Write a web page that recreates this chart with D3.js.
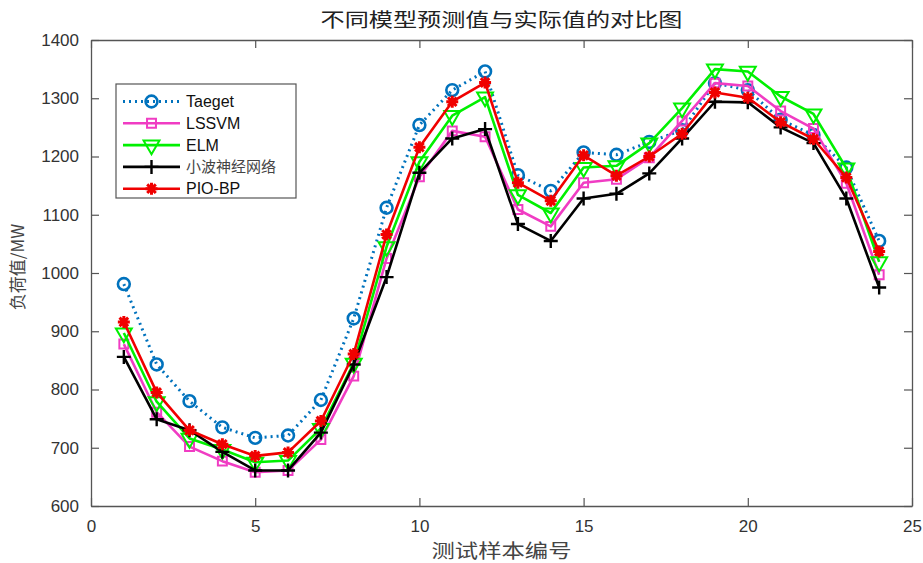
<!DOCTYPE html>
<html>
<head>
<meta charset="utf-8">
<script src="https://cdn.jsdelivr.net/npm/d3@7"></script>
<style>
  body { margin: 0; background: #fff; }
  svg { display: block; }
</style>
</head>
<body>
<script>
// sample index 1..24
var samples = d3.range(1, 25);
var target  = [981, 843, 780, 735, 717, 721, 782, 922, 1112, 1254, 1314, 1346, 1168, 1141, 1207, 1203, 1225, 1245, 1326, 1314, 1263, 1237, 1181, 1055];
var lssvm   = [878, 761, 702, 677, 658, 661, 714, 823, 1025, 1165, 1244, 1234, 1109, 1080, 1155, 1161, 1198, 1261, 1326, 1321, 1278, 1248, 1154, 997];
var elm     = [897, 779, 716, 697, 675, 678, 733, 845, 1045, 1191, 1270, 1302, 1134, 1103, 1181, 1184, 1223, 1283, 1350, 1346, 1303, 1273, 1180, 1019];
var wavelet = [856, 749, 730, 693, 661, 661, 726, 843, 993, 1172, 1231, 1247, 1084, 1055, 1128, 1136, 1171, 1231, 1294, 1293, 1250, 1223, 1128, 975];
var pio     = [916, 795, 730, 706, 686, 692, 746, 861, 1066, 1216, 1294, 1327, 1155, 1124, 1202, 1167, 1200, 1239, 1310, 1301, 1259, 1230, 1164, 1037];
var seriesNames = ['Taeget', 'LSSVM', 'ELM', '小波神经网络', 'PIO-BP'];
var xTicks = [0, 5, 10, 15, 20, 25];
var yTicks = [600, 700, 800, 900, 1000, 1100, 1200, 1300, 1400];

var W = 923, H = 563;
var mLeft = 91, mRight = 912, mTop = 40, mBottom = 506;
var axisColor = '#555';
var cjk = '"Noto Sans CJK SC", sans-serif';
var latin = '"Liberation Sans", Arial, sans-serif';

var svg = d3.select('body').append('svg')
  .attr('width', W)
  .attr('height', H);

var xScale = d3.scaleLinear().domain([0, 25]).range([mLeft, mRight]);
var yScale = d3.scaleLinear().domain([600, 1400]).range([mBottom, mTop]);

// axes: MATLAB style, ticks pointing inwards, full box
var tk = 8;
svg.append('g')
  .attr('transform', 'translate(0,' + mBottom + ')')
  .call(d3.axisBottom(xScale).tickValues(xTicks).tickSizeInner(-tk).tickSizeOuter(0).tickPadding(14));
svg.append('g')
  .attr('transform', 'translate(0,' + mTop + ')')
  .call(d3.axisTop(xScale).tickValues(xTicks).tickSizeInner(-tk).tickSizeOuter(0).tickFormat(''));
svg.append('g')
  .attr('transform', 'translate(' + mLeft + ',0)')
  .call(d3.axisLeft(yScale).tickValues(yTicks).tickFormat(d3.format('d')).tickSizeInner(-tk).tickSizeOuter(0).tickPadding(12));
svg.append('g')
  .attr('transform', 'translate(' + mRight + ',0)')
  .call(d3.axisRight(yScale).tickValues(yTicks).tickSizeInner(-tk).tickSizeOuter(0).tickFormat(''));

svg.selectAll('.domain').attr('stroke', axisColor).attr('stroke-width', 1.3);
svg.selectAll('.tick line').attr('stroke', axisColor).attr('stroke-width', 1.2);
svg.selectAll('.tick text')
  .attr('fill', '#333')
  .attr('font-family', latin)
  .attr('font-size', 17);

// marker shapes
var sym = {
  circle:   d3.symbol().type(d3.symbolCircle).size(110),
  square:   d3.symbol().type(d3.symbolSquare).size(80),
  triangle: d3.symbol().type(d3.symbolTriangle).size(110)
};

var series = [
  { name: seriesNames[0], values: target,  color: '#0072BD', dash: '2,4', marker: 'circle' },
  { name: seriesNames[1], values: lssvm,   color: '#F03CC3', dash: null,  marker: 'square' },
  { name: seriesNames[2], values: elm,     color: '#00F000', dash: null,  marker: 'triangle' },
  { name: seriesNames[3], values: wavelet, color: '#000000', dash: null,  marker: 'plus' },
  { name: seriesNames[4], values: pio,     color: '#F00000', dash: null,  marker: 'star' }
];

function drawMarker(g, type, color) {
  if (type === 'circle') {
    g.append('path').attr('d', sym.circle()).attr('fill', 'none')
      .attr('stroke', color).attr('stroke-width', 2.6);
  } else if (type === 'square') {
    g.append('path').attr('d', sym.square()).attr('fill', 'none')
      .attr('stroke', color).attr('stroke-width', 2);
  } else if (type === 'triangle') {
    g.append('path').attr('d', sym.triangle()).attr('fill', 'none')
      .attr('transform', 'rotate(180)')
      .attr('stroke', color).attr('stroke-width', 2);
  } else if (type === 'plus') {
    g.append('path').attr('d', 'M-7,0H7M0,-7V7').attr('fill', 'none')
      .attr('stroke', color).attr('stroke-width', 2.4);
  } else if (type === 'star') {
    g.append('path')
      .attr('d', 'M-6,0H6M0,-6V6M-4.3,-4.3L4.3,4.3M-4.3,4.3L4.3,-4.3')
      .attr('fill', 'none').attr('stroke', color).attr('stroke-width', 3);
    g.append('circle').attr('r', 3.2).attr('fill', color);
  }
}

var line = d3.line()
  .x(function(d, i) { return xScale(samples[i]); })
  .y(function(d) { return yScale(d); });

series.forEach(function(s) {
  var g = svg.append('g');
  g.append('path')
    .datum(s.values)
    .attr('d', line)
    .attr('fill', 'none')
    .attr('stroke', s.color)
    .attr('stroke-width', s.dash ? 3 : 2.6)
    .attr('stroke-dasharray', s.dash)
    .attr('stroke-linejoin', 'round');
  g.selectAll('.m')
    .data(s.values)
    .enter()
    .append('g')
    .attr('transform', function(d, i) { return 'translate(' + xScale(samples[i]) + ',' + yScale(d) + ')'; })
    .each(function() { drawMarker(d3.select(this), s.marker, s.color); });
});

// legend
var lg = svg.append('g').attr('transform', 'translate(116,84)');
lg.append('rect')
  .attr('width', 180).attr('height', 114)
  .attr('fill', '#fff').attr('stroke', axisColor).attr('stroke-width', 1.2);
series.forEach(function(s, i) {
  var yy = 17.5 + i * 21.8;
  var row = lg.append('g').attr('transform', 'translate(0,' + yy + ')');
  row.append('line')
    .attr('x1', 7).attr('x2', 64).attr('y1', 0).attr('y2', 0)
    .attr('stroke', s.color)
    .attr('stroke-width', s.dash ? 3 : 2.6)
    .attr('stroke-dasharray', s.dash);
  drawMarker(row.append('g').attr('transform', 'translate(35.5,0)'), s.marker, s.color);
  row.append('text')
    .attr('x', 70).attr('y', 0).attr('dy', '0.36em')
    .attr('font-family', i === 3 ? cjk : latin)
    .attr('font-size', i === 3 ? 15 : 16)
    .attr('fill', i === 3 ? '#444' : '#111')
    .text(s.name);
});

// title & axis labels
svg.append('text')
  .attr('x', (mLeft + mRight) / 2).attr('y', 27)
  .attr('text-anchor', 'middle')
  .attr('font-family', cjk)
  .attr('font-size', 19)
  .attr('fill', '#222')
  .attr('textLength', 362).attr('lengthAdjust', 'spacingAndGlyphs')
  .text('不同模型预测值与实际值的对比图');

svg.append('text')
  .attr('x', (mLeft + mRight) / 2).attr('y', 558)
  .attr('text-anchor', 'middle')
  .attr('font-family', cjk)
  .attr('font-size', 19)
  .attr('fill', '#444')
  .attr('textLength', 140).attr('lengthAdjust', 'spacingAndGlyphs')
  .text('测试样本编号');

svg.append('text')
  .attr('transform', 'translate(24,267) rotate(-90)')
  .attr('text-anchor', 'middle')
  .attr('font-family', cjk)
  .attr('font-size', 17)
  .attr('fill', '#444')
  .text('负荷值/MW');
</script>
</body>
</html>
